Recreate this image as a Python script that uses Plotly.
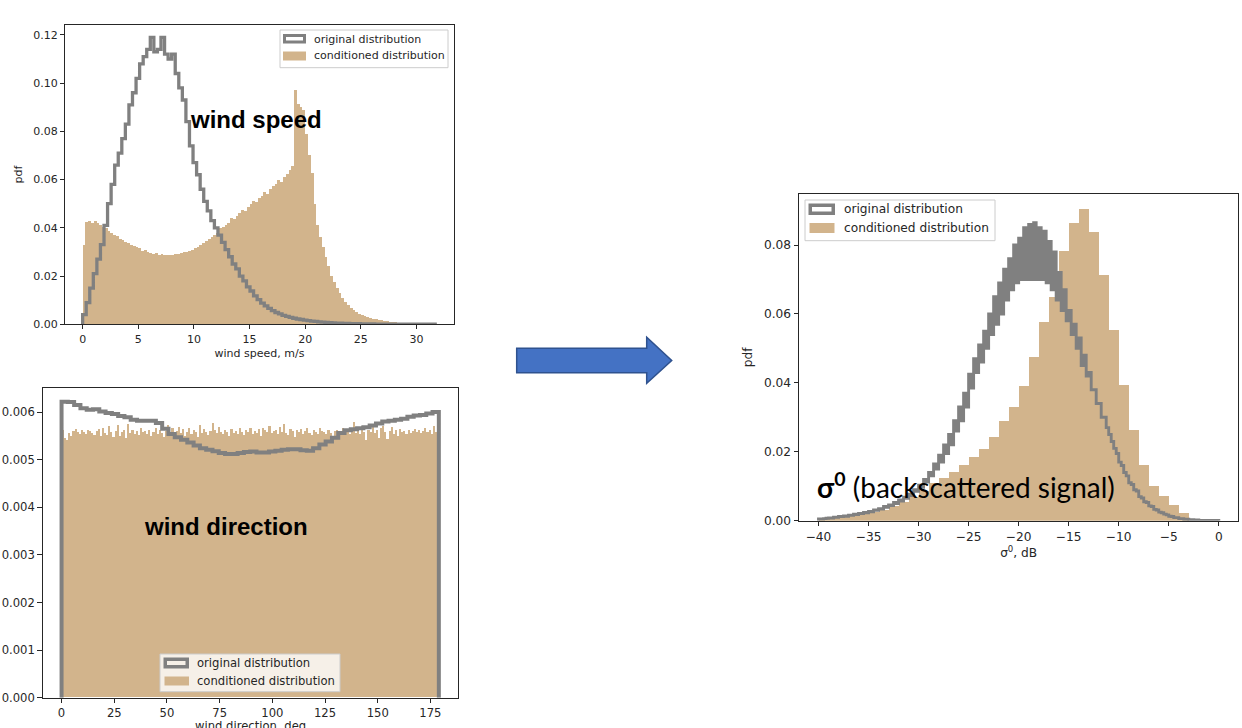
import numpy as np
import plotly.graph_objects as go

W, H = 1242, 728
TAN = "#D2B48C"
GRAY = "#808080"
INK = "#262626"

# ---------------- data ----------------
# wind speed, conditioned distribution (bins of 0.25 m/s starting at 0)
ws_cond_start, ws_cond_width = 0.0, 0.25
ws_cond = [
    0.0330, 0.0425, 0.0430, 0.0422, 0.0428, 0.0420, 0.0412, 0.0405,
    0.0398, 0.0388, 0.0380, 0.0372, 0.0366, 0.0352, 0.0348, 0.0340,
    0.0338, 0.0330, 0.0325, 0.0322, 0.0318, 0.0305, 0.0308, 0.0300,
    0.0296, 0.0292, 0.0295, 0.0288, 0.0290, 0.0286, 0.0289, 0.0287,
    0.0288, 0.0293, 0.0290, 0.0296, 0.0298, 0.0301, 0.0306, 0.0310,
    0.0318, 0.0322, 0.0330, 0.0336, 0.0345, 0.0352, 0.0362, 0.0370,
    0.0380, 0.0398, 0.0405, 0.0412, 0.0420, 0.0440, 0.0436, 0.0448,
    0.0462, 0.0474, 0.0470, 0.0488, 0.0500, 0.0512, 0.0508, 0.0525,
    0.0532, 0.0548, 0.0540, 0.0560, 0.0572, 0.0580, 0.0598, 0.0590,
    0.0612, 0.0625, 0.0640, 0.0655, 0.0972, 0.0912, 0.0900, 0.0890,
    0.0790, 0.0700, 0.0626, 0.0500, 0.0412, 0.0360, 0.0322, 0.0280,
    0.0240, 0.0200, 0.0175, 0.0150, 0.0130, 0.0110, 0.0094, 0.0080,
    0.0068, 0.0058, 0.0050, 0.0044, 0.0040, 0.0035, 0.0030, 0.0026,
    0.0023, 0.0020, 0.0018, 0.0016, 0.0014, 0.0012, 0.0010, 0.0009,
    0.0008, 0.0007, 0.0006, 0.0005, 0.0004, 0.0003, 0.0003, 0.0002,
]
# wind speed, original distribution (bins of 0.32 m/s starting at 0)
ws_orig_start, ws_orig_width = 0.0, 0.32
ws_orig = [
    0.004, 0.009, 0.015, 0.021, 0.027, 0.033, 0.041, 0.050, 0.058, 0.066,
    0.071, 0.077, 0.083, 0.091, 0.096, 0.102, 0.108, 0.111, 0.114, 0.119,
    0.113, 0.114, 0.119, 0.112, 0.110, 0.112, 0.104, 0.098, 0.093, 0.084,
    0.074, 0.067, 0.062, 0.056, 0.051, 0.047, 0.043, 0.040, 0.037, 0.034,
    0.031, 0.028, 0.025, 0.023, 0.020, 0.018, 0.0155, 0.0138, 0.0118, 0.0102,
    0.0088, 0.0076, 0.0066, 0.0057, 0.0049, 0.0043, 0.0037, 0.0033, 0.0029, 0.0025,
    0.0022, 0.0020, 0.0017, 0.0015, 0.0013, 0.0012, 0.0010, 0.0009, 0.0008, 0.0007,
    0.0006, 0.0005, 0.0005, 0.0004, 0.0004, 0.0003, 0.0003, 0.0003, 0.0002, 0.0002,
    0.0002, 0.0002, 0.0001, 0.0001, 0.0001, 0.0001, 0.0001, 0.0001, 0.0001, 0.0001,
    0.0001, 0.0001, 0.0001, 0.0001, 0.0001, 0.0001, 0.0001, 0.0001, 0.0001,
]
# wind direction, conditioned distribution (bins of 1 deg starting at 0)
wd_cond_start, wd_cond_width = 0.0, 1.0
wd_cond = [
    0.00562, 0.00545, 0.00541, 0.00556, 0.00550, 0.00560, 0.00563, 0.00558, 0.00554, 0.00561,
    0.00557, 0.00553, 0.00562, 0.00559, 0.00555, 0.00551, 0.00560, 0.00564, 0.00549, 0.00566,
    0.00556, 0.00552, 0.00571, 0.00558, 0.00548, 0.00560, 0.00573, 0.00550, 0.00557, 0.00561,
    0.00546, 0.00575, 0.00556, 0.00562, 0.00553, 0.00559, 0.00551, 0.00565, 0.00557, 0.00560,
    0.00554, 0.00562, 0.00549, 0.00558, 0.00566, 0.00553, 0.00561, 0.00556, 0.00548, 0.00559,
    0.00572, 0.00556, 0.00566, 0.00552, 0.00560, 0.00569, 0.00555, 0.00563, 0.00550, 0.00558,
    0.00565, 0.00554, 0.00561, 0.00557, 0.00547, 0.00572, 0.00556, 0.00563, 0.00558, 0.00551,
    0.00560, 0.00576, 0.00562, 0.00555, 0.00568, 0.00557, 0.00553, 0.00561, 0.00558, 0.00549,
    0.00563, 0.00556, 0.00560, 0.00554, 0.00565, 0.00558, 0.00552, 0.00562, 0.00557, 0.00567,
    0.00553, 0.00560, 0.00556, 0.00563, 0.00549, 0.00566, 0.00561, 0.00557, 0.00570, 0.00555,
    0.00559, 0.00562, 0.00553, 0.00568, 0.00558, 0.00575, 0.00556, 0.00552, 0.00564, 0.00559,
    0.00548, 0.00561, 0.00557, 0.00563, 0.00554, 0.00560, 0.00566, 0.00556, 0.00551, 0.00562,
    0.00558, 0.00554, 0.00565, 0.00560, 0.00557, 0.00553, 0.00561, 0.00556, 0.00550, 0.00559,
    0.00562, 0.00555, 0.00558, 0.00566, 0.00552, 0.00560, 0.00554, 0.00563, 0.00579, 0.00556,
    0.00560, 0.00553, 0.00571, 0.00557, 0.00540, 0.00562, 0.00558, 0.00568, 0.00555, 0.00561,
    0.00546, 0.00565, 0.00571, 0.00557, 0.00542, 0.00560, 0.00569, 0.00554, 0.00561, 0.00550,
    0.00563, 0.00557, 0.00559, 0.00553, 0.00561, 0.00556, 0.00560, 0.00564, 0.00558, 0.00562,
    0.00555, 0.00559, 0.00566, 0.00557, 0.00561, 0.00553, 0.00571, 0.00558, 0.00554,
]
# wind direction, original distribution (60 bins over 0..179 deg)
wd_orig_start, wd_orig_end = 0.0, 179.0
wd_orig = [
    0.00622, 0.00621, 0.00615, 0.00608, 0.00605, 0.00606, 0.00601, 0.00598, 0.00596, 0.00592,
    0.00589, 0.00584, 0.00582, 0.00582, 0.00582, 0.00577, 0.00565, 0.00554, 0.00547, 0.00542,
    0.00536, 0.00530, 0.00524, 0.00521, 0.00518, 0.00514, 0.00512, 0.00512, 0.00514, 0.00516,
    0.00517, 0.00515, 0.00515, 0.00517, 0.00519, 0.00521, 0.00522, 0.00522, 0.00520, 0.00519,
    0.00524, 0.00532, 0.00538, 0.00546, 0.00556, 0.00562, 0.00564, 0.00566, 0.00568, 0.00572,
    0.00576, 0.00580, 0.00582, 0.00584, 0.00586, 0.00590, 0.00593, 0.00594, 0.00597, 0.00600,
]
# sigma0, conditioned distribution (bins of 1 dB starting at -40)
s0_cond_start, s0_cond_width = -40.0, 1.0
s0_cond = [
    0.0004, 0.0007, 0.0010, 0.0014, 0.0019, 0.0025, 0.0032, 0.0042, 0.0055, 0.0070,
    0.0085, 0.0110, 0.0123, 0.0140, 0.0163, 0.0184, 0.0209, 0.0242, 0.0288, 0.0329,
    0.0392, 0.0474, 0.0576, 0.0650, 0.0784, 0.0863, 0.0905, 0.0839, 0.0713, 0.0553,
    0.0394, 0.0263, 0.0162, 0.0102, 0.0072, 0.0045, 0.0021,
]
# sigma0, original distribution (bins of 0.25 dB starting at -40)
s0_orig_start, s0_orig_width = -40.0, 0.25
s0_orig = [
    0.0005, 0.0005, 0.0006, 0.0007, 0.0008, 0.0008, 0.0010, 0.0010, 0.0012, 0.0012,
    0.0014, 0.0013, 0.0016, 0.0016, 0.0019, 0.0018, 0.0021, 0.0021, 0.0024, 0.0023,
    0.0027, 0.0026, 0.0031, 0.0030, 0.0035, 0.0034, 0.0041, 0.0039, 0.0046, 0.0044,
    0.0053, 0.0050, 0.0060, 0.0057, 0.0068, 0.0065, 0.0077, 0.0073, 0.0090, 0.0085,
    0.0103, 0.0097, 0.0120, 0.0112, 0.0140, 0.0130, 0.0165, 0.0150, 0.0190, 0.0170,
    0.0220, 0.0195, 0.0250, 0.0220, 0.0290, 0.0260, 0.0330, 0.0290, 0.0370, 0.0330,
    0.0425, 0.0385, 0.0470, 0.0430, 0.0510, 0.0460, 0.0550, 0.0500, 0.0600, 0.0540,
    0.0650, 0.0570, 0.0690, 0.0600, 0.0730, 0.0640, 0.0760, 0.0670, 0.0800, 0.0690,
    0.0820, 0.0700, 0.0850, 0.0700, 0.0860, 0.0700, 0.0865, 0.0700, 0.0850, 0.0700,
    0.0840, 0.0690, 0.0810, 0.0670, 0.0780, 0.0640, 0.0720, 0.0610, 0.0670, 0.0580,
    0.0610, 0.0540, 0.0570, 0.0500, 0.0530, 0.0450, 0.0480, 0.0420, 0.0430, 0.0380,
    0.0380, 0.0340, 0.0340, 0.0300, 0.0300, 0.0270, 0.0250, 0.0230, 0.0210, 0.0195,
    0.0170, 0.0160, 0.0140, 0.0130, 0.0110, 0.0105, 0.0090, 0.0086, 0.0070, 0.0066,
    0.0055, 0.0053, 0.0043, 0.0041, 0.0033, 0.0031, 0.0025, 0.0023, 0.0019, 0.0017,
    0.0013, 0.0012, 0.0009, 0.0009, 0.0006, 0.0006, 0.0004, 0.0004, 0.0003, 0.0003,
    0.0002, 0.0002, 0.0001, 0.0001, 0.0001, 0.0001, 0.0001, 0.0001, 0.0001, 0.0001,
]

LEG_ORIG = "original distribution"
LEG_COND = "conditioned distribution"


# ---------------- helpers ----------------
def edges_of(start, width, n):
    return start + width * np.arange(n + 1)


def step_outline(edges, vals):
    xs = [edges[0]] + list(edges[:-1]) + [edges[-1], edges[-1]]
    ys = [0.0] + list(vals) + [vals[-1], 0.0]
    return xs, ys


def px_x(p):
    return p / W


def px_y(p):
    return 1 - p / H


fig = go.Figure()


def add_panel(ax, cond_edges, cond_vals, orig_edges, orig_vals, lw):
    xa, ya = ("x", "y") if ax == 1 else (f"x{ax}", f"y{ax}")
    centers = (cond_edges[:-1] + cond_edges[1:]) / 2
    widths = np.diff(cond_edges)
    fig.add_trace(go.Bar(
        x=centers, y=cond_vals, width=widths, xaxis=xa, yaxis=ya,
        marker=dict(color=TAN, line=dict(width=0)),
        name=LEG_COND, showlegend=False, hoverinfo="skip"))
    xs, ys = step_outline(orig_edges, orig_vals)
    fig.add_trace(go.Scatter(
        x=xs, y=ys, xaxis=xa, yaxis=ya, mode="lines",
        line=dict(color=GRAY, width=lw, shape="hv"),
        name=LEG_ORIG, showlegend=False, hoverinfo="skip"))


add_panel(1, edges_of(ws_cond_start, ws_cond_width, len(ws_cond)), ws_cond,
          edges_of(ws_orig_start, ws_orig_width, len(ws_orig)), ws_orig, 3.3)
add_panel(2, edges_of(wd_cond_start, wd_cond_width, len(wd_cond)), wd_cond,
          np.linspace(wd_orig_start, wd_orig_end, len(wd_orig) + 1), wd_orig, 4)
add_panel(3, edges_of(s0_cond_start, s0_cond_width, len(s0_cond)), s0_cond,
          edges_of(s0_orig_start, s0_orig_width, len(s0_orig)), s0_orig, 2.9)


def axis(fs, tl, **kw):
    d = dict(showline=True, mirror=True, linecolor=INK, linewidth=1,
             ticks="outside", ticklen=tl, tickwidth=1, tickcolor=INK,
             showgrid=False, zeroline=False, automargin=False,
             tickfont=dict(family="DejaVu Sans", size=fs, color=INK))
    d.update(kw)
    return d


def title(text, fs, standoff):
    return dict(text=text, font=dict(family="DejaVu Sans", size=fs, color=INK), standoff=standoff)


fig.update_layout(
    width=W, height=H, margin=dict(l=0, r=0, t=0, b=0, autoexpand=False),
    paper_bgcolor="white", plot_bgcolor="white",
    barmode="overlay", bargap=0, showlegend=False,
    xaxis=axis(11, 4, domain=[px_x(65), px_x(454)], range=[-1.585, 33.37],
               tickvals=list(range(0, 31, 5)), anchor="y",
               title=title("wind speed, m/s", 11, 4)),
    yaxis=axis(11, 4, domain=[px_y(324.3), px_y(25)], range=[0, 0.1241],
               tickvals=[0, 0.02, 0.04, 0.06, 0.08, 0.10, 0.12], tickformat=".2f",
               anchor="x", title=title("pdf", 11, 8)),
    xaxis2=axis(11.6, 4.5, domain=[px_x(42.7), px_x(457.7)], range=[-8.95, 187.95],
                tickvals=list(range(0, 176, 25)), anchor="y2"),
    yaxis2=axis(11.6, 4.5, domain=[px_y(697.7), px_y(388.3)], range=[0, 0.0065],
                tickvals=[0, 0.001, 0.002, 0.003, 0.004, 0.005, 0.006], tickformat=".3f",
                anchor="x2"),
    xaxis3=axis(12.2, 4.5, domain=[px_x(799), px_x(1238.3)], range=[-41.95, 1.95],
                tickvals=list(range(-40, 1, 5)), anchor="y3",
                title=title("σ<sup>0</sup>, dB", 12.2, 4)),
    yaxis3=axis(12.2, 4.5, domain=[px_y(520.7), px_y(194)], range=[0, 0.0948],
                tickvals=[0, 0.02, 0.04, 0.06, 0.08], tickformat=".2f",
                anchor="x3", title=title("pdf", 12.2, 8)),
)

# x title of the wind-direction panel: at the page's lower edge, partly cut off as in the source
fig.add_annotation(x=px_x(250), y=px_y(726), xref="paper", yref="paper",
                   xanchor="center", yanchor="middle", text="wind direction, deg",
                   showarrow=False, font=dict(family="DejaVu Sans", size=11.6, color=INK))


# ---------------- legends (drawn like matplotlib's) ----------------
def rect_px(x0, y0, x1, y1, **kw):
    fig.add_shape(type="rect", xref="paper", yref="paper",
                  x0=px_x(x0), x1=px_x(x1), y0=px_y(y1), y1=px_y(y0), **kw)


def manual_legend(box, h1, h2, tx, ty1, ty2, fs, lw):
    rect_px(*box, fillcolor="rgba(255,255,255,0.8)", line=dict(color="#cccccc", width=1))
    x0, y0, x1, y1 = h1
    rect_px(x0 + lw / 2, y0 + lw / 2, x1 - lw / 2, y1 - lw / 2,
            fillcolor="rgba(255,255,255,0)", line=dict(color=GRAY, width=lw))
    rect_px(*h2, fillcolor=TAN, line=dict(width=0))
    for t, ty in ((LEG_ORIG, ty1), (LEG_COND, ty2)):
        fig.add_annotation(x=px_x(tx), y=px_y(ty), xref="paper", yref="paper",
                           xanchor="left", yanchor="middle", text=t, showarrow=False,
                           borderpad=0,
                           font=dict(family="DejaVu Sans", size=fs, color=INK))


manual_legend((280, 30, 448, 67.7), (283, 34, 306, 43.5), (283, 51.5, 306, 60.5),
              313, 39, 56, 11, 3)
manual_legend((160, 654, 340, 691.7), (163.5, 657.5, 189, 668.5), (164.5, 676.5, 189, 685.5),
              196, 663.3, 681, 11.6, 3.5)
manual_legend((805, 200, 995, 240.7), (808.5, 203.5, 835, 215), (809.5, 223, 834.5, 233),
              843, 209.3, 228.3, 12.2, 3.5)

# panel labels
fig.add_annotation(x=px_x(256), y=px_y(119.3), xref="paper", yref="paper",
                   xanchor="center", yanchor="middle",
                   text="<b>wind speed</b>", showarrow=False,
                   font=dict(family="Liberation Sans", size=24, color="black"))
fig.add_annotation(x=px_x(225.5), y=px_y(526), xref="paper", yref="paper",
                   xanchor="center", yanchor="middle",
                   text="<b>wind direction</b>", showarrow=False,
                   font=dict(family="Liberation Sans", size=24, color="black"))
fig.add_annotation(x=px_x(815), y=px_y(486), xref="paper", yref="paper",
                   xanchor="left", yanchor="middle",
                   text="<b>σ<sup>0</sup></b> (backscattered signal)", showarrow=False,
                   font=dict(family="Lato", size=28, color="black"))

# block arrow between the panels
arrow_px = [(516.7, 348.3), (646.7, 348.3), (646.7, 337.3), (671.7, 360.5),
            (646.7, 383.3), (646.7, 372.7), (516.7, 372.7)]
path = "M " + " L ".join(f"{px_x(a):.5f},{px_y(b):.5f}" for a, b in arrow_px) + " Z"
fig.add_shape(type="path", path=path, xref="paper", yref="paper",
              fillcolor="#4472C4", line=dict(color="#2F528F", width=1.5))

fig.write_html("out.html")
